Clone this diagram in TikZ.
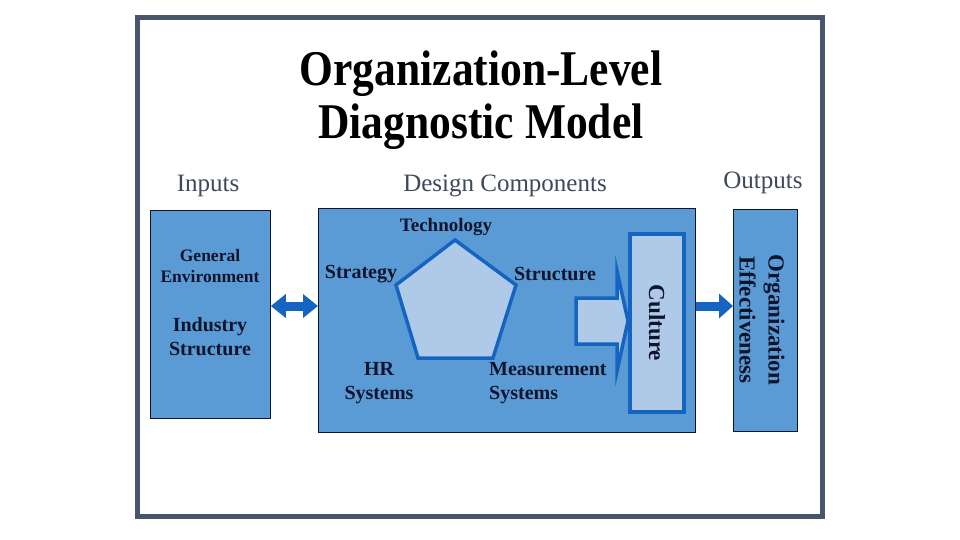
\documentclass[tikz,border=0pt]{standalone}
\usepackage{fontspec}
\setmainfont{Liberation Serif}
\usetikzlibrary{arrows.meta,calc}
\definecolor{framegray}{RGB}{72,86,108}
\definecolor{boxblue}{RGB}{91,155,213}
\definecolor{lightblue}{RGB}{174,202,232}
\definecolor{arrowblue}{RGB}{21,101,192}
\definecolor{navy}{RGB}{15,20,45}
\definecolor{headgray}{RGB}{62,72,92}
\tikzset{
  titletext/.style={font=\fontsize{50}{52}\selectfont\bfseries, text=black, anchor=base, inner sep=0},
  headtext/.style={font=\fontsize{25}{27}\selectfont, text=headgray, anchor=base, inner sep=0},
  bigbox/.style={draw=navy, line width=0.8pt, fill=boxblue, minimum width=#1, inner sep=0, anchor=north west},
  boxtext/.style={font=\fontsize{20}{24}\selectfont\bfseries, text=navy, align=center, inner sep=0},
  lightshape/.style={draw=arrowblue, fill=lightblue, line width=3.5pt, line join=miter},
  connarrow/.style={arrowblue, line width=9pt},
}
\begin{document}
\begin{tikzpicture}[x=1pt,y=-1pt]
\useasboundingbox (0,0) rectangle (960,540);
\fill[white] (0,0) rectangle (960,540);
\draw[framegray, line width=5pt] (137.5,17.5) rectangle (822.5,516.5);

% title
\node[titletext] (t1) at (481,86) {\scalebox{0.87}[1]{Organization-Level}};
\node[titletext] (t2) at (481,139) {\scalebox{0.87}[1]{Diagnostic Model}};

% headings
\node[headtext] (hin) at (208,191) {Inputs};
\node[headtext] (hdc) at (505,191) {Design Components};
\node[headtext] (hout) at (763,188) {Outputs};

% boxes
\node[bigbox=120pt, minimum height=208pt] (inbox) at (150,210) {};
\node[bigbox=377pt, minimum height=224pt] (dcbox) at (318,208) {};
\node[bigbox=64pt, minimum height=222pt] (outbox) at (733,209) {};

% input texts
\node[boxtext, font=\fontsize{17.5}{21}\selectfont\bfseries] (genv) at (210,266) {General\\Environment};
\node[boxtext] (ind) at (210,337) {Industry\\Structure};

% pentagon
\coordinate (pT) at (455,240);
\coordinate (pR) at (516,285);
\coordinate (pBR) at (493,358);
\coordinate (pBL) at (418,358);
\coordinate (pL) at (396,285);
\draw[lightshape] (pT) -- (pR) -- (pBR) -- (pBL) -- (pL) -- cycle;

\node[boxtext, font=\fontsize{19}{23}\selectfont\bfseries] (tech) at (446,227) {Technology};
\node[boxtext] (strat) at (361,274) {Strategy};
\node[boxtext] (struc) at (555,274) {Structure};
\node[boxtext] (hr) at (379,383) {HR\\Systems};
\node[boxtext, align=left, anchor=west] (meas) at (489,383) {Measurement\\Systems};

% culture box
\node[draw=arrowblue, fill=lightblue, line width=4pt, minimum width=54pt, minimum height=178pt, inner sep=0] (cult) at (657,323) {};
\node[boxtext, font=\fontsize{23}{27}\selectfont\bfseries, rotate=-90] (culttext) at (cult.center) {Culture};

% block arrow into culture
\coordinate (ba1) at (576,298);
\coordinate (ba2) at (617,298);
\coordinate (ba3) at (617,271);
\coordinate (ba4) at (cult.west);
\coordinate (ba5) at (617,371);
\coordinate (ba6) at (617,344);
\coordinate (ba7) at (576,344);
\draw[lightshape] (ba1) -- (ba2) -- (ba3) -- (ba4 |- 0,321) -- (ba5) -- (ba6) -- (ba7) -- cycle;

% output text
\node[boxtext, font=\fontsize{23}{29}\selectfont\bfseries, rotate=-90] (oeff) at (762,320) {Organization\\Effectiveness};

% connectors
\coordinate (ay) at (0,306);
\draw[connarrow, {Triangle[length=15pt,width=23pt]}-{Triangle[length=15pt,width=23pt]}] (inbox.east |- ay) -- (dcbox.west |- ay);
\draw[connarrow, -{Triangle[length=14pt,width=24pt]}] (dcbox.east |- ay) -- (outbox.west |- ay);
\end{tikzpicture}
\end{document}
